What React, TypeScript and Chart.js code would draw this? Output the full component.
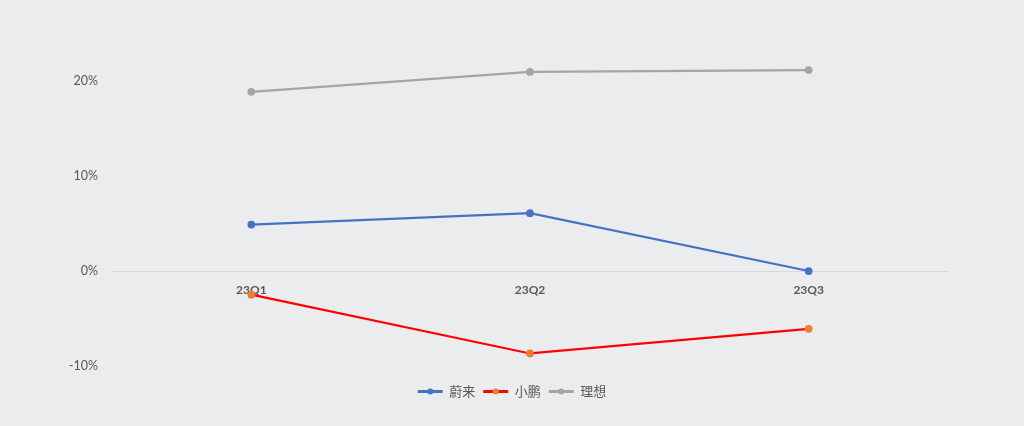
import React, { useEffect, useRef } from "react";
import { Chart, registerables } from "chart.js";

Chart.register(...registerables);

const categories = ["23Q1", "23Q2", "23Q3"];
const nioValues = [4.9, 6.1, 0.0];
const xpengValues = [-2.5, -8.7, -6.1];
const liValues = [18.9, 21.0, 21.2];
const seriesNames = ["蔚来", "小鹏", "理想"];

const legendDots = {
  id: "legendDots",
  afterDraw(chart: any) {
    const legend = chart.legend;
    if (!legend || !legend.legendHitBoxes) return;
    const ctx = chart.ctx;
    const bw = legend.options.labels.boxWidth;
    legend.legendHitBoxes.forEach((hb: any, i: number) => {
      const ds = chart.data.datasets[i];
      const cx = hb.left + bw / 2;
      const cy = hb.top + hb.height / 2;
      ctx.save();
      ctx.beginPath();
      ctx.arc(cx, cy, 3, 0, Math.PI * 2);
      ctx.fillStyle = ds.pointBackgroundColor;
      ctx.fill();
      ctx.restore();
    });
  },
};

export default function App() {
  const ref = useRef<HTMLCanvasElement>(null);
  useEffect(() => {
    document.body.style.margin = "0";
    document.body.style.background = "#EBECEE";
    const chart = new Chart(ref.current!, {
      type: "line",
      data: {
        labels: categories,
        datasets: [
          {
            label: seriesNames[0],
            data: nioValues,
            borderColor: "#4472C4",
            backgroundColor: "#4472C4",
            pointBackgroundColor: "#4472C4",
            pointBorderColor: "#4472C4",
            borderWidth: 2.25,
            pointRadius: 2.75,
          },
          {
            label: seriesNames[1],
            data: xpengValues,
            borderColor: "#FF0000",
            backgroundColor: "#FF0000",
            pointBackgroundColor: "#ED7D31",
            pointBorderColor: "#ED7D31",
            borderWidth: 2.25,
            pointRadius: 2.75,
          },
          {
            label: seriesNames[2],
            data: liValues,
            borderColor: "#A5A5A5",
            backgroundColor: "#A5A5A5",
            pointBackgroundColor: "#A5A5A5",
            pointBorderColor: "#A5A5A5",
            borderWidth: 2.25,
            pointRadius: 2.75,
          },
        ],
      },
      options: {
        responsive: false,
        animation: false,
        layout: { padding: { left: 0, right: 0, top: 34, bottom: 18 } },
        plugins: {
          tooltip: { enabled: false },
          legend: {
            position: "bottom",
            title: { display: true, text: " ", font: { size: 1 }, padding: 5 },
            labels: {
              boxWidth: 25,
              boxHeight: 3,
              padding: 8,
              color: "#595959",
              font: { family: "'Noto Sans CJK SC'", size: 13 },
              generateLabels: (c: any) => {
                const items = Chart.defaults.plugins.legend.labels.generateLabels(c);
                items.forEach((it: any) => {
                  it.lineWidth = 0;
                });
                return items;
              },
            },
          },
        },
        scales: {
          x: {
            position: { y: 0 } as any,
            offset: true,
            grid: { display: false },
            border: { display: true, color: "#D9D9D9", width: 1 },
            ticks: {
              color: "#595959",
              font: { family: "Lato", size: 12, weight: "bold" },
              padding: 4,
            },
          },
          y: {
            min: -10,
            max: 25,
            grid: { display: false },
            border: { display: false },
            afterFit: (s: any) => {
              s.width = 112;
            },
            ticks: {
              stepSize: 10,
              padding: 6,
              color: "#595959",
              font: { family: "Lato", size: 12.5 },
              callback: (v: any) => (Number(v) % 10 === 0 ? v + "%" : ""),
            },
          },
          yRight: {
            position: "right",
            display: true,
            grid: { display: false },
            border: { display: false },
            ticks: { display: false },
            afterFit: (s: any) => {
              s.width = 76;
            },
          },
        },
      },
      plugins: [legendDots],
    });
    return () => chart.destroy();
  }, []);
  return (
    <div style={{ width: 1024, height: 426, background: "#EBECEE" }}>
      <canvas ref={ref} width={1024} height={426} />
    </div>
  );
}
